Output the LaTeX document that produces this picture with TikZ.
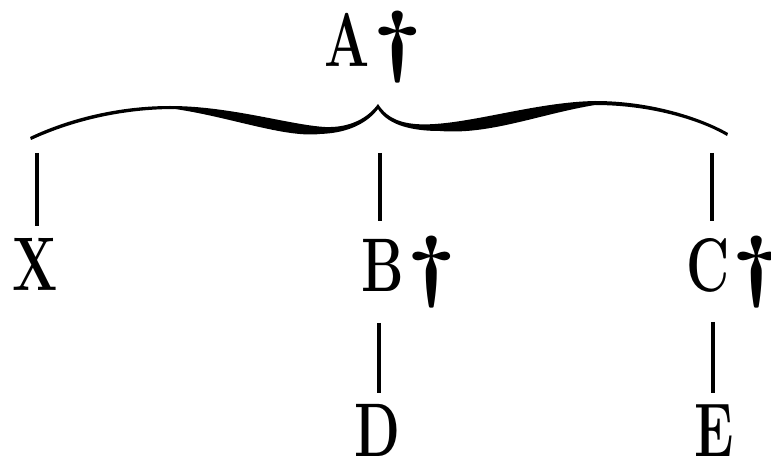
\documentclass[tikz,border=0pt]{standalone}
\usepackage{graphicx}
\usepackage{tikz}
\usetikzlibrary{positioning, calc}
\newcommand{\nm}[1]{\scalebox{0.7}[1]{#1}}
\newcommand{\dagr}{\kern3bp\scalebox{1.3}[1.04]{\textdagger}}
\tikzset{
    person/.style={
        font=\fontsize{76bp}{80bp}\selectfont\bfseries,
        inner sep=0pt,
        outer sep=0pt,
        anchor=base west
    },
    stem/.style={
        line width=4.5bp,
        line cap=butt
    }
}

\begin{document}
\begin{tikzpicture}[x=1bp, y=-1bp]
\useasboundingbox (0,0) rectangle (771,464);

% Root
\node[person] (a) at (324,67) {\nm{A}\dagr};

% Brace
\fill (30,137) .. controls (70,118) and (120,106) .. (170,106)
      .. controls (230,106) and (290,125) .. (325,127)
      .. controls (350,128) and (368,118) .. (378,104)
      .. controls (388,120) and (405,126) .. (435,124)
      .. controls (480,121) and (540,102) .. (595,101)
      .. controls (650,101) and (700,117) .. (728,133)
      -- (727,136)
      .. controls (700,120) and (650,105) .. (595,105)
      .. controls (540,114) and (490,135) .. (440,131)
      .. controls (405,131) and (386,122) .. (378,109)
      .. controls (368,122) and (350,133) .. (320,134)
      .. controls (285,138) and (230,117) .. (175,109)
      .. controls (120,109) and (70,122) .. (31,140) -- cycle;

% Children
\node[person] (x) at (12,291) {\nm{X}};
\node[person] (b) at (361,292) {\nm{B}\dagr};
\node[person] (c) at (686,292) {\nm{C}\kern-1bp\dagr};

% Grandchildren
\node[person] (d) at (354,456) {\nm{D}};
\node[person] (e) at (694,456) {\nm{E}};

% Line ends
\coordinate (xtop) at (37,153);
\coordinate (btop) at (380,153);
\coordinate (ctop) at (712,153);
\coordinate (dtop) at (379,323);
\coordinate (etop) at (713,322);

% Stems
\draw[stem, shorten >=13bp] (xtop) -- (xtop |- x.north);
\draw[stem, shorten >=16bp] (btop) -- (btop |- b.north);
\draw[stem, shorten >=16bp] (ctop) -- (ctop |- c.north);
\draw[stem, shorten >=11bp] (dtop) -- (dtop |- d.north);
\draw[stem, shorten >=11bp] (etop) -- (etop |- e.north);

\end{tikzpicture}
\end{document}
